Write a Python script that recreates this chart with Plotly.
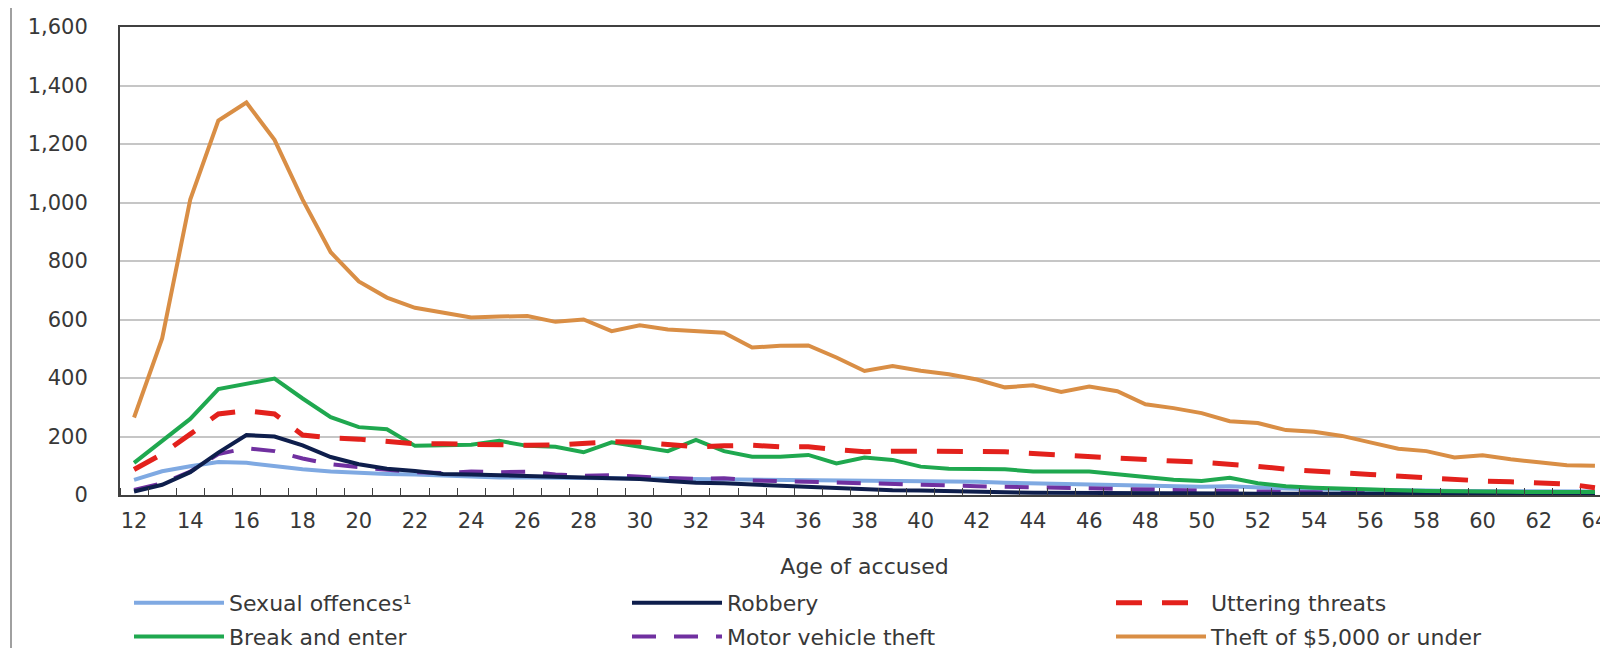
import plotly.graph_objects as go

ages = list(range(12, 65))

sexual_offences = [52, 81, 98, 113, 110, 98, 88, 80, 75, 72, 70, 66, 62, 60, 60, 58, 57, 57, 56, 55,
                   54, 53, 52, 52, 53, 52, 50, 50, 48, 47, 45, 42, 40, 38, 36, 34, 32, 30, 28, 30,
                   25, 22, 20, 18, 17, 16, 15, 14, 14, 13, 13, 12, 12]
robbery = [12, 35, 78, 145, 205, 200, 170, 130, 105, 90, 82, 72, 70, 68, 66, 63, 60, 58, 55, 48,
           42, 40, 36, 32, 28, 22, 18, 16, 15, 12, 10, 9, 8, 8, 7, 6, 6, 5, 5, 5,
           4, 4, 4, 4, 4, 4, 4, 4, 4, 4, 4, 4, 4]
uttering_threats = [87, 140, 208, 277, 288, 277, 205, 195, 191, 185, 175, 175, 172, 171, 170, 171, 176, 182, 180, 172,
                    165, 168, 170, 165, 165, 155, 148, 150, 150, 148, 148, 148, 142, 136, 130, 125, 120, 116, 112, 106,
                    98, 88, 80, 76, 70, 64, 58, 51, 48, 45, 42, 38, 25]
break_and_enter = [110, 185, 260, 362, 380, 398, 330, 266, 232, 225, 168, 170, 172, 185, 168, 165, 146, 180, 165, 150,
                   188, 150, 131, 131, 137, 108, 128, 120, 97, 90, 89, 88, 80, 80, 80, 71, 62, 52, 48, 59,
                   40, 30, 25, 21, 18, 16, 14, 12, 12, 11, 10, 10, 10]
motor_vehicle_theft = [17, 40, 80, 140, 160, 150, 125, 105, 95, 88, 78, 75, 80, 78, 80, 70, 66, 68, 62, 58,
                       55, 57, 50, 48, 45, 42, 40, 38, 36, 33, 30, 28, 25, 24, 23, 22, 20, 18, 16, 14,
                       12, 10, 9, 8, 7, 6, 6, 5, 5, 5, 4, 4, 4]
theft_under_5000 = [265, 535, 1010, 1280, 1342, 1214, 1010, 830, 730, 675, 640, 622, 607, 610, 612, 592, 600, 560, 580, 566,
                    560, 555, 504, 510, 511, 470, 424, 441, 425, 413, 395, 368, 375, 352, 371, 355, 310, 297, 280, 252,
                    246, 222, 216, 202, 180, 158, 150, 128, 136, 122, 112, 102, 100]

x_tick_labels = [str(a) for a in range(12, 65, 2)]
y_tick_values = list(range(0, 1601, 200))

FONT = "DejaVu Sans"
TXT = "#383838"
TICK_SIZE = 21
LEG_SIZE = 22

W, H = 1608, 648
# plot area in pixels: left 112, right 1601, top 19, bottom 487
PL, PR, PT, PB = 112, 1601, 19, 487
def px_x(p):
    return (p - PL) / (PR - PL)
def px_y(p):
    return (PB - p) / (PB - PT)

series = [
    # name, data, color, width, dash, legend, rank
    ("Sexual offences¹", sexual_offences, "#7FA9E2", 4, "solid", "legend", 1),
    ("Motor vehicle theft", motor_vehicle_theft, "#7030A0", 4, "24px,18px", "legend2", 2),
    ("Robbery", robbery, "#0E1E4C", 4, "solid", "legend2", 1),
    ("Break and enter", break_and_enter, "#1FA84F", 4, "solid", "legend", 2),
    ("Uttering threats", uttering_threats, "#E3211C", 5, "26px,20px", "legend3", 1),
    ("Theft of $5,000 or under", theft_under_5000, "#D98E45", 4, "solid", "legend3", 2),
]

fig = go.Figure()
for name, vals, color, w, dash, leg, rank in series:
    fig.add_trace(go.Scatter(
        x=ages, y=vals, name=name, mode="lines",
        line=dict(color=color, width=w, dash=dash),
        legend=leg, legendrank=rank, legendgroup=name,
    ))

legend_common = dict(orientation="v", xanchor="left", yanchor="middle",
                     yref="container", y=1 - 612 / H,
                     traceorder="grouped", tracegroupgap=2, itemwidth=90,
                     font=dict(family=FONT, size=LEG_SIZE, color=TXT), bgcolor="rgba(0,0,0,0)")

fig.update_layout(
    width=W, height=H,
    margin=dict(l=PL, r=W - PR, t=PT, b=H - PB, autoexpand=False),
    paper_bgcolor="white", plot_bgcolor="white",
    font=dict(family=FONT, size=TICK_SIZE, color=TXT),
    xaxis=dict(
        range=[11.5, 64.5], automargin=False,
        tickvals=list(range(12, 65, 2)), ticktext=x_tick_labels,
        ticks="", showgrid=False, ticklabelstandoff=6,
        showline=True, linecolor="#404040", linewidth=2, mirror=True,
        minor=dict(tick0=12.5, dtick=1, ticks="inside", ticklen=7, tickcolor="#404040", showgrid=False),
        tickfont=dict(family=FONT, size=TICK_SIZE, color=TXT),
        title=dict(text="Age of accused", font=dict(family=FONT, size=LEG_SIZE, color=TXT), standoff=26),
        zeroline=False,
    ),
    yaxis=dict(
        range=[0, 1600], tickvals=y_tick_values, tickformat=",", automargin=False,
        showgrid=True, gridcolor="#C6C6C6", gridwidth=1.5,
        showline=True, linecolor="#404040", linewidth=2, mirror=True,
        ticks="", ticklabelstandoff=26,
        tickfont=dict(family=FONT, size=TICK_SIZE, color=TXT),
        zeroline=False,
    ),
    legend=dict(legend_common, x=px_x(121)),
    legend2=dict(legend_common, x=px_x(619)),
    legend3=dict(legend_common, x=px_x(1103)),
    shapes=[
        dict(type="line", xref="paper", yref="paper", x0=px_x(3), x1=px_x(3), y0=px_y(660), y1=px_y(-10),
             line=dict(color="#A0A0A0", width=2)),
        dict(type="line", xref="paper", yref="paper", x0=px_x(1606), x1=px_x(1606), y0=px_y(660), y1=px_y(-10),
             line=dict(color="#A0A0A0", width=2)),
    ],
)

fig.write_html("out.html")
